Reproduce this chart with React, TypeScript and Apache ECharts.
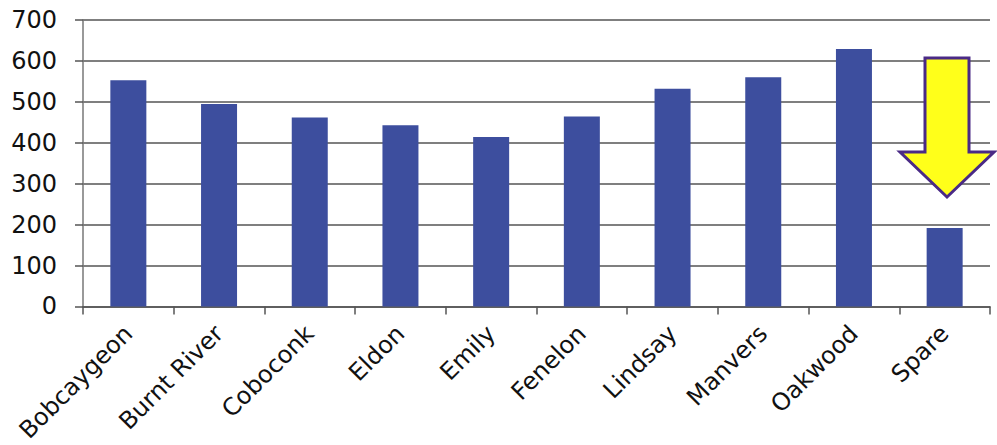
import React, { useEffect, useRef } from "react";
import * as echarts from "echarts";

const categories = [
  "Bobcaygeon",
  "Burnt River",
  "Coboconk",
  "Eldon",
  "Emily",
  "Fenelon",
  "Lindsay",
  "Manvers",
  "Oakwood",
  "Spare",
];
const values = [553, 495, 462, 443, 414, 464, 532, 560, 629, 192];
const yTicks = { min: 0, max: 700, interval: 100 };

export default function App() {
  const ref = useRef<HTMLDivElement>(null);
  useEffect(() => {
    if (!ref.current) return;
    const chart = echarts.init(ref.current, undefined, { renderer: "svg" });
    const font = "'DejaVu Sans', Verdana, sans-serif";
    chart.setOption({
      animation: false,
      backgroundColor: "#ffffff",
      grid: { left: 83, right: 7, top: 20, bottom: 137, containLabel: false },
      xAxis: {
        type: "category",
        data: categories,
        boundaryGap: true,
        axisLine: { show: true, lineStyle: { color: "#555", width: 1.5 } },
        axisTick: { show: true, interval: 0, length: 8, lineStyle: { color: "#555", width: 1.5 } },
        axisLabel: {
          interval: 0,
          rotate: 45,
          margin: 23,
          color: "#111",
          fontSize: 24,
          fontFamily: font,
        },
        splitLine: { show: false },
      },
      yAxis: {
        type: "value",
        min: yTicks.min,
        max: yTicks.max,
        interval: yTicks.interval,
        axisLine: { show: true, lineStyle: { color: "#777", width: 1.5 } },
        axisTick: { show: true, length: 8, lineStyle: { color: "#555", width: 1.5 } },
        axisLabel: {
          color: "#111",
          fontSize: 24,
          fontFamily: font,
          margin: 26,
        },
        splitLine: { show: true, lineStyle: { color: "#555", width: 1.5 } },
      },
      series: [
        {
          type: "bar",
          data: values,
          barWidth: 36,
          itemStyle: { color: "#3d4e9e" },
        },
      ],
      graphic: [
        {
          type: "polygon",
          z: 100,
          shape: {
            points: [
              [925, 58],
              [969, 58],
              [969, 152],
              [994, 152],
              [947, 197],
              [900, 152],
              [925, 152],
            ],
          },
          style: { fill: "#ffff1a", stroke: "#4a2a86", lineWidth: 3, lineJoin: "miter" },
        },
      ],
    });
    return () => chart.dispose();
  }, []);
  return (
    <div
      ref={ref}
      style={{ position: "fixed", left: 0, top: 0, width: 997, height: 445 }}
    />
  );
}
